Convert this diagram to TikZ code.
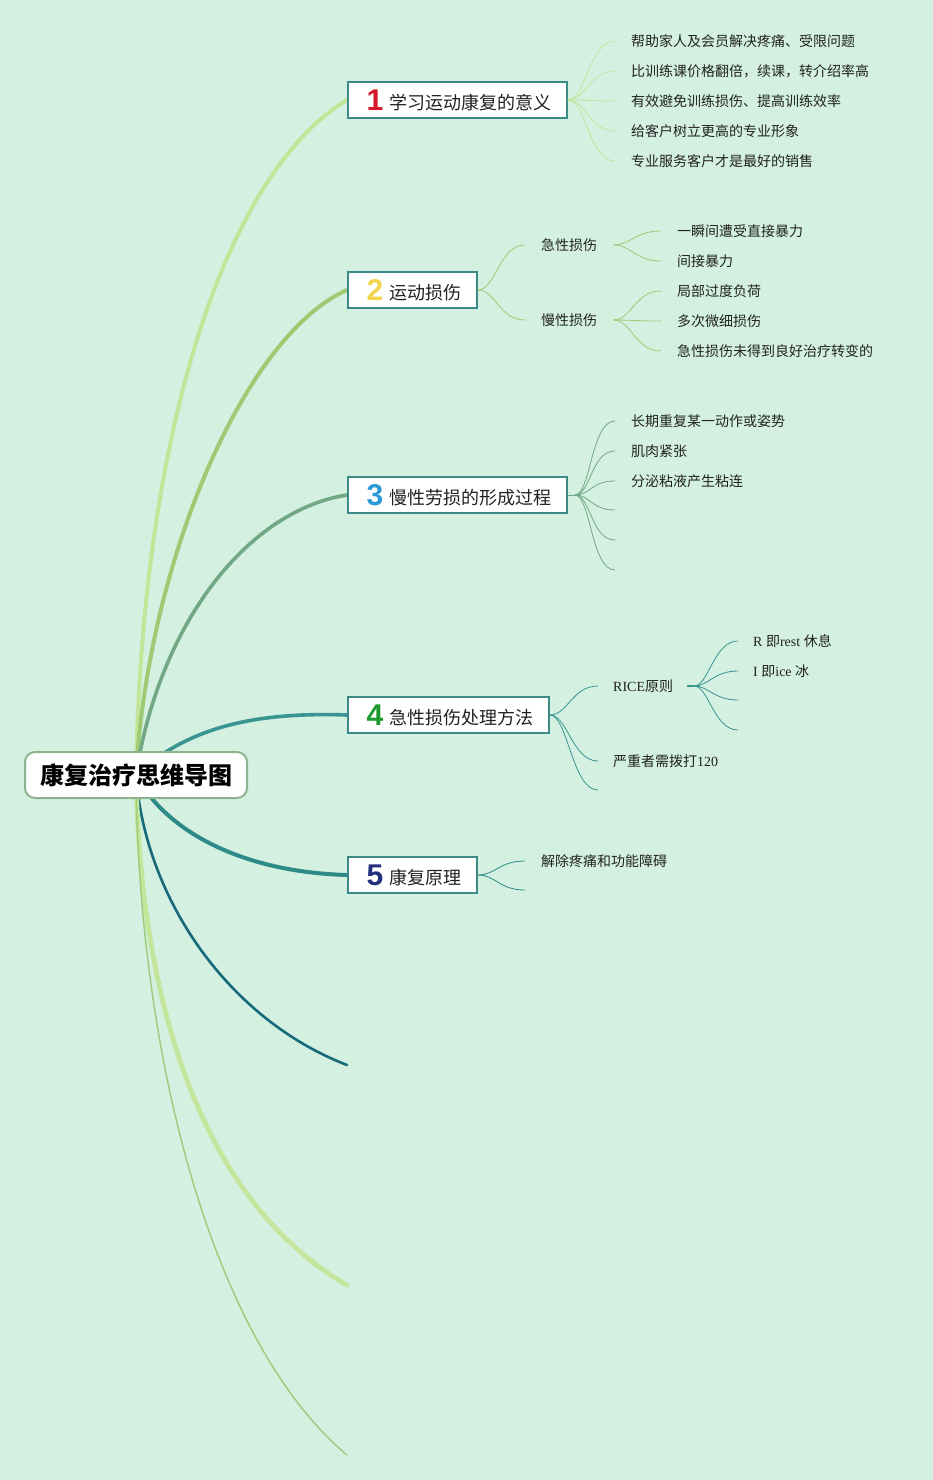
\documentclass[tikz,border=0pt]{standalone}
\usepackage{fontspec}
\setmainfont{Noto Sans CJK SC}
\newfontfamily\lser{Liberation Serif}
\newfontfamily\numf{Liberation Sans}
\usetikzlibrary{backgrounds}
\definecolor{bgc}{HTML}{D3F0E1}
\definecolor{boxc}{HTML}{3D8A86}
\definecolor{rootc}{HTML}{8DB38F}
\definecolor{cA}{HTML}{C2E59A}
\definecolor{cB}{HTML}{9FCA74}
\definecolor{cC}{HTML}{72A984}
\definecolor{cD}{HTML}{3A9590}
\definecolor{cE}{HTML}{2D8A87}
\definecolor{cF}{HTML}{176A7A}
\definecolor{cG}{HTML}{C4E69C}
\definecolor{cH}{HTML}{9CCB7A}
\definecolor{nA}{HTML}{D7182A}
\definecolor{nB}{HTML}{F2D54C}
\definecolor{nC}{HTML}{2B9AD8}
\definecolor{nD}{HTML}{1C9A2C}
\definecolor{nE}{HTML}{22307E}
\definecolor{txt}{HTML}{222222}
\newcommand\mynum[2]{\hspace*{18pt}\makebox[18pt][c]{\raisebox{-1pt}{\numf\bfseries\fontsize{30}{30}\selectfont\color{#1}#2}}\hspace*{6pt}}
\begin{document}
\begin{tikzpicture}[x=1pt,y=-1pt,
  mainbox/.style={draw=boxc, line width=1.8pt, fill=white, inner sep=0pt, minimum height=36pt, anchor=west, font=\fontsize{18}{20}\selectfont, text=txt},
  rootbox/.style={draw=rootc, line width=2pt, fill=white, rounded corners=10pt, inner sep=0pt, minimum height=46pt, minimum width=222pt, font=\fontsize{24}{26}\selectfont\bfseries, text=black},
  leaf/.style={anchor=west, inner sep=0pt, font=\fontsize{14}{16}\selectfont, text=txt},
  branch/.style={line cap=round},
  twig/.style={line width=0.8pt}]
\useasboundingbox (0,0) rectangle (933,1480);

% root and main boxes
\node[rootbox] (root) at (136,775) {康复治疗思维导图};
\node[mainbox] (b1) at (347,100) {\mynum{nA}{1}学习运动康复的意义\hspace*{15pt}};
\node[mainbox] (b2) at (347,290) {\mynum{nB}{2}运动损伤\hspace*{15pt}};
\node[mainbox] (b3) at (347,495) {\mynum{nC}{3}慢性劳损的形成过程\hspace*{15pt}};
\node[mainbox] (b4) at (347,715) {\mynum{nD}{4}急性损伤处理方法\hspace*{15pt}};
\node[mainbox] (b5) at (347,875) {\mynum{nE}{5}康复原理\hspace*{15pt}};
\coordinate (e6) at (347,1065);
\coordinate (e7) at (347,1285);
\coordinate (e8) at (347,1455);

% main branches (behind the nodes)
\begin{scope}[on background layer]
\fill[bgc] (0,0) rectangle (933,1480);
\draw[branch, cA, line width=4pt] (root.center) .. controls (142,420) and (230,170) .. (b1.west);
\draw[branch, cB, line width=4pt] (root.center) .. controls (148,560) and (245,335) .. (b2.west);
\draw[branch, cC, line width=3.6pt] (root.center) .. controls (160,620) and (250,510) .. (b3.west);
\draw[branch, cD, line width=3.6pt] (root.center) .. controls (190,725) and (260,712) .. (b4.west);
\draw[branch, cE, line width=4pt] (root.center) .. controls (165,830) and (240,872) .. (b5.west);
\draw[branch, cF, line width=2.6pt] (root.center) .. controls (145,900) and (230,1020) .. (e6);
\draw[branch, cG, line width=4.8pt] (root.center) .. controls (140,1000) and (200,1200) .. (e7);
\draw[branch, cH, line width=1.4pt] (root.center) .. controls (138,1050) and (210,1340) .. (e8);
\end{scope}

% branch 1 leaves
\node[leaf] (l11) at (631,41) {帮助家人及会员解决疼痛、受限问题};
\node[leaf] (l12) at (631,71) {比训练课价格翻倍，续课，转介绍率高};
\node[leaf] (l13) at (631,101) {有效避免训练损伤、提高训练效率};
\node[leaf] (l14) at (631,131) {给客户树立更高的专业形象};
\node[leaf] (l15) at (631,161) {专业服务客户才是最好的销售};
\foreach \n in {l11,l12,l13,l14,l15}
  \draw[twig, cA] (b1.east) .. controls +(18,0) and +(-26,0) .. ([xshift=-16pt]\n.west);

% branch 2
\node[leaf] (s21) at (541,245) {急性损伤};
\node[leaf] (s22) at (541,320) {慢性损伤};
\foreach \n in {s21,s22}
  \draw[twig, cB] (b2.east) .. controls +(18,0) and +(-26,0) .. ([xshift=-16pt]\n.west);
\coordinate (o21) at ([xshift=16pt]s21.east);
\coordinate (o22) at ([xshift=16pt]s22.east);
\node[leaf] (l211) at (677,231) {一瞬间遭受直接暴力};
\node[leaf] (l212) at (677,261) {间接暴力};
\node[leaf] (l221) at (677,291) {局部过度负荷};
\node[leaf] (l222) at (677,321) {多次微细损伤};
\node[leaf] (l223) at (677,351) {急性损伤未得到良好治疗转变的};
\foreach \n in {l211,l212}
  \draw[twig, cB] (o21) .. controls +(18,0) and +(-26,0) .. ([xshift=-16pt]\n.west);
\foreach \n in {l221,l222,l223}
  \draw[twig, cB] (o22) .. controls +(18,0) and +(-26,0) .. ([xshift=-16pt]\n.west);

% branch 3
\node[leaf] (l31) at (631,421) {长期重复某一动作或姿势};
\node[leaf] (l32) at (631,451) {肌肉紧张};
\node[leaf] (l33) at (631,481) {分泌粘液产生粘连};
\coordinate (l34) at (615,510);
\coordinate (l35) at (615,540);
\coordinate (l36) at (615,570);
\coordinate (o3) at ([xshift=7pt]b3.east);
\draw[twig, cC] (b3.east) -- (o3);
\foreach \n in {l31,l32,l33}
  \draw[twig, cC] (o3) .. controls +(16,0) and +(-24,0) .. ([xshift=-16pt]\n.west);
\foreach \n in {l34,l35,l36}
  \draw[twig, cC] (o3) .. controls +(16,0) and +(-24,0) .. (\n);

% branch 4
\node[leaf] (s41) at (613,686) {{\lser RICE}原则};
\node[leaf] (s42) at (613,761) {严重者需拨打{\lser 120}};
\coordinate (s43) at (598,790);
\foreach \n in {s41,s42}
  \draw[twig, cD] (b4.east) .. controls +(18,0) and +(-26,0) .. ([xshift=-15pt]\n.west);
\draw[twig, cD] (b4.east) .. controls +(18,0) and +(-26,0) .. (s43);
\coordinate (o41) at ([xshift=21pt]s41.east);
\draw[cD, line width=1.8pt] ([xshift=-7pt]o41) -- (o41);
\node[leaf] (l411) at (753,641) {{\lser R }即{\lser rest }休息};
\node[leaf] (l412) at (753,671) {{\lser I }即{\lser ice }冰};
\coordinate (l413) at (738,700);
\coordinate (l414) at (738,730);
\foreach \n in {l411,l412}
  \draw[twig, cD] (o41) .. controls +(14,0) and +(-24,0) .. ([xshift=-15pt]\n.west);
\foreach \n in {l413,l414}
  \draw[twig, cD] (o41) .. controls +(14,0) and +(-24,0) .. (\n);

% branch 5
\node[leaf] (l51) at (541,861) {解除疼痛和功能障碍};
\coordinate (l52) at (525,890);
\draw[twig, cE] (b5.east) .. controls +(18,0) and +(-26,0) .. ([xshift=-16pt]l51.west);
\draw[twig, cE] (b5.east) .. controls +(18,0) and +(-26,0) .. (l52);
\end{tikzpicture}
\end{document}
